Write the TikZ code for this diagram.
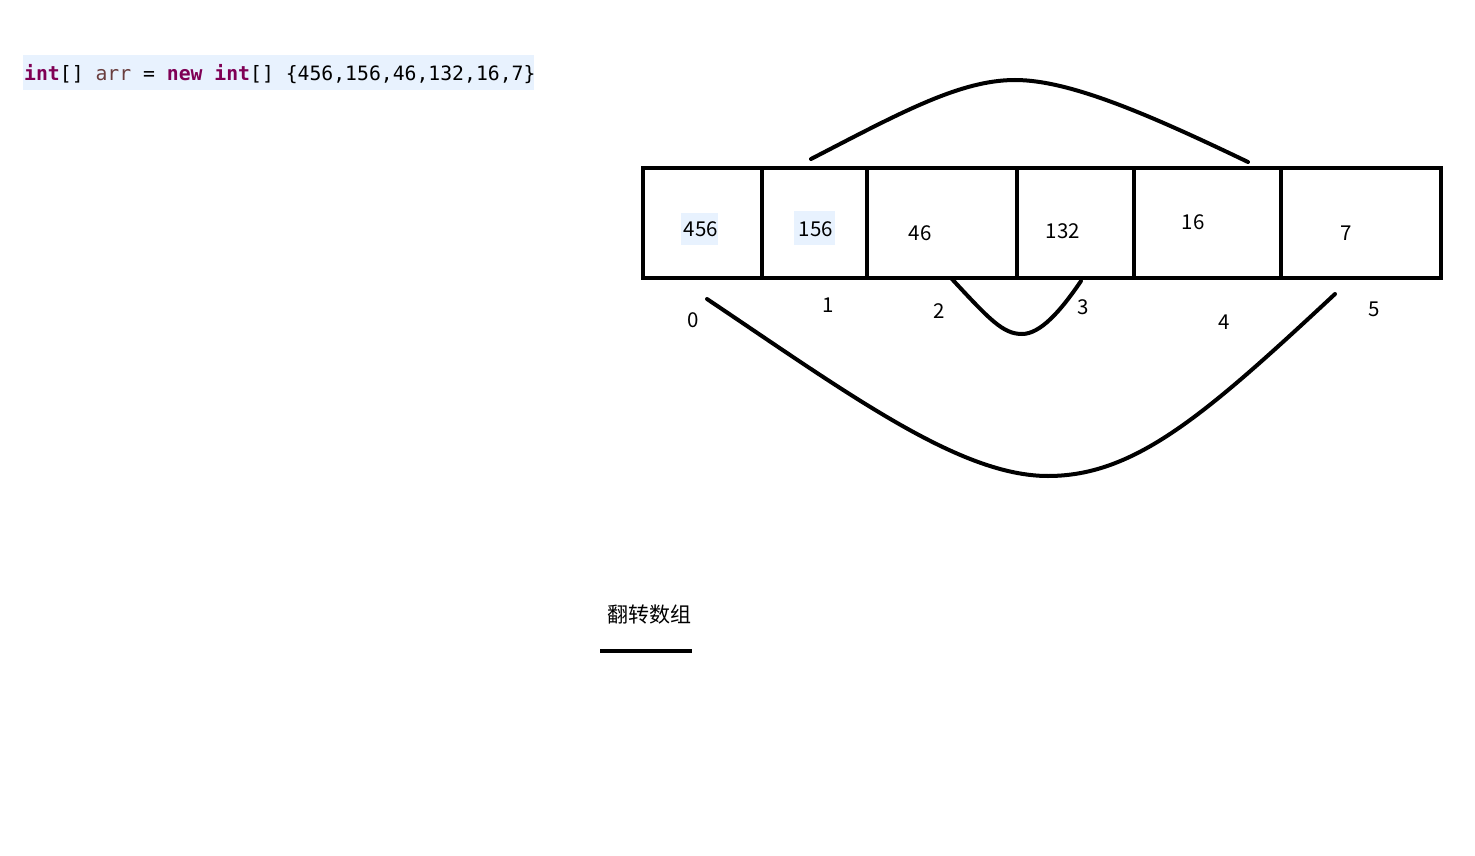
\documentclass[tikz,border=0pt]{standalone}
\usepackage{fontspec}
\setmainfont{Noto Sans CJK SC}
\newfontfamily\codefont{DejaVu Sans Mono}
\definecolor{codebg}{HTML}{E8F2FE}
\definecolor{kw}{HTML}{7F0055}
\definecolor{var}{HTML}{6A3E3E}
\tikzset{
  cell/.style={draw=black, line width=4.5pt, minimum height=110pt, inner sep=0pt, outer sep=0pt, anchor=north west},
  val/.style={inner sep=0pt, font=\fontsize{20.5}{24}\selectfont},
  hl/.style={fill=codebg, inner sep=0pt},
  idx/.style={inner sep=0pt, font=\fontsize{20.5}{24}\selectfont},
  swap/.style={line width=4pt, line cap=round}
}
\begin{document}
\begin{tikzpicture}[x=1pt,y=-1pt]
\useasboundingbox (0,0) rectangle (1475,856);
% code line
\node[fill=codebg, minimum width=511pt, minimum height=35pt, inner sep=0pt, anchor=north west] (codebg) at (23,55) {};
\node[anchor=base west, inner sep=0pt, font=\codefont\fontsize{19.75}{24}\selectfont] (code) at (24,81)
 {\textcolor{kw}{\textbf{int}}[] \textcolor{var}{arr} = \textcolor{kw}{\textbf{new}} \textcolor{kw}{\textbf{int}}[] \{456,156,46,132,16,7\}};
% cells
\node[cell, minimum width=119pt] (c0) at (643,168) {};
\node[cell, minimum width=105pt] (c1) at (762,168) {};
\node[cell, minimum width=150pt] (c2) at (867,168) {};
\node[cell, minimum width=117pt] (c3) at (1017,168) {};
\node[cell, minimum width=147pt] (c4) at (1134,168) {};
\node[cell, minimum width=160pt] (c5) at (1281,168) {};
% highlights
\node[hl, minimum width=37pt, minimum height=32pt, anchor=north west] (h0) at (681,213) {};
\node[hl, minimum width=41pt, minimum height=34pt, anchor=north west] (h1) at (794,211) {};
% values
\node[val] (v0) at (701,229) {456};
\node[val] (v1) at (816,229) {156};
\node[val] (v2) at (920,233) {46};
\node[val] (v3) at (1063,231) {132};
\node[val] (v4) at (1193,222) {16};
\node[val] (v5) at (1346,233) {7};
% indices
\node[idx] (i0) at (693,320) {0};
\node[idx] (i1) at (828,305) {1};
\node[idx] (i2) at (939,311) {2};
\node[idx] (i3) at (1083,307) {3};
\node[idx] (i4) at (1224,322) {4};
\node[idx] (i5) at (1374,309) {5};
% swap curves
\coordinate (t1) at (811,159);
\coordinate (t2) at (1248,162);
\coordinate (b1) at (707,299);
\coordinate (b2) at (1335,294);
\coordinate (s1) at (951,278);
\coordinate (s2) at (1081,281);
\draw[swap] (t1) .. controls (900,113) and (960,80) .. (1015,80) .. controls (1070,80) and (1150,115) .. (t2);
\draw[swap] (b1) .. controls (850,395) and (960,476) .. (1048,476) .. controls (1135,476) and (1205,415) .. (b2);
\draw[swap] (s1) .. controls (990,320) and (1003,334) .. (1022,334) .. controls (1040,334) and (1060,312) .. (s2);
% title
\node[inner sep=0pt, font=\fontsize{21}{24}\selectfont] (title) at (649,615) {翻转数组};
\coordinate (u1) at (600,651);
\coordinate (u2) at (692,651);
\draw[line width=4pt] (u1) -- (u2);
\end{tikzpicture}
\end{document}
